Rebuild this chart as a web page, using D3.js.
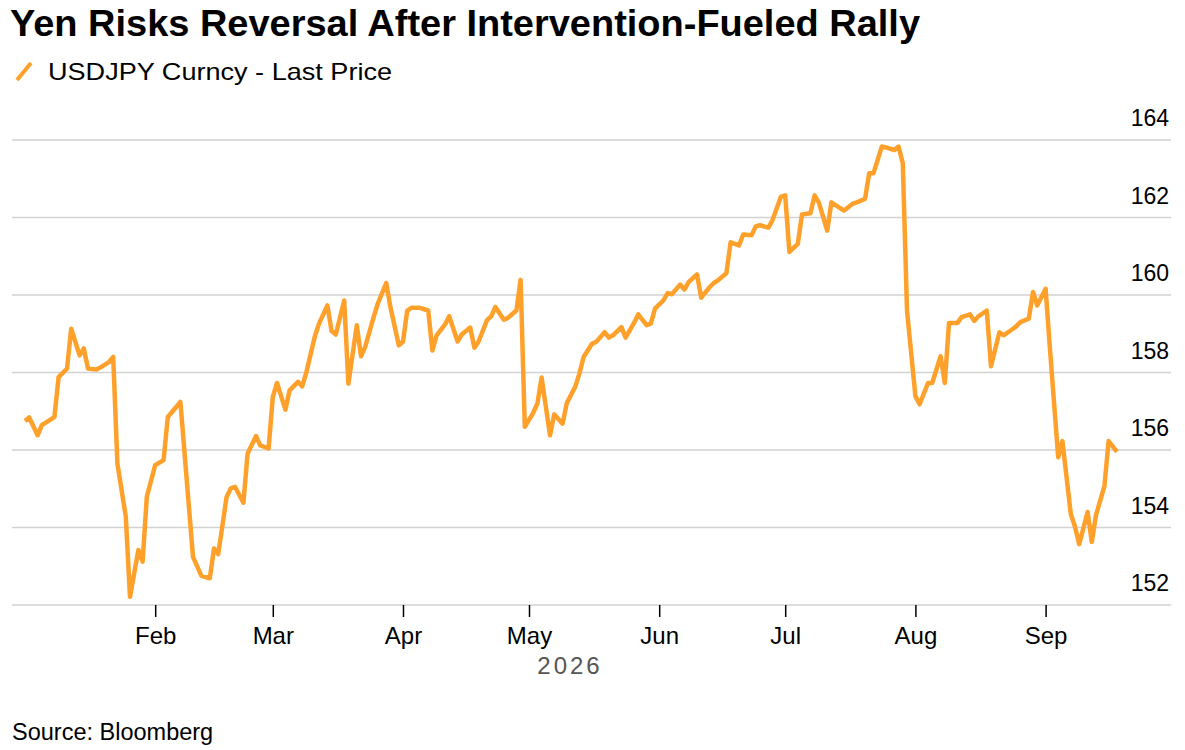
<!DOCTYPE html>
<html>
<head>
<meta charset="utf-8">
<script src="https://cdnjs.cloudflare.com/ajax/libs/d3/7.8.5/d3.min.js"></script>
<style>
  body { margin: 0; background: #fff; }
  svg text { font-family: "Liberation Sans", Arial, sans-serif; }
</style>
</head>
<body>
<svg id="chart" width="1185" height="750"></svg>
<script>
// USDJPY last price
var dates = [
  "2026-01-01","2026-01-02","2026-01-04","2026-01-05","2026-01-08","2026-01-09","2026-01-11","2026-01-12",
  "2026-01-14","2026-01-15","2026-01-16","2026-01-18","2026-01-19","2026-01-21","2026-01-22","2026-01-23",
  "2026-01-25","2026-01-26","2026-01-28","2026-01-29","2026-01-30","2026-02-01","2026-02-03","2026-02-04",
  "2026-02-07","2026-02-10","2026-02-12","2026-02-14","2026-02-15","2026-02-16","2026-02-18","2026-02-19",
  "2026-02-20","2026-02-22","2026-02-23","2026-02-25","2026-02-26","2026-02-28","2026-03-01","2026-03-02",
  "2026-03-04","2026-03-05","2026-03-07","2026-03-08","2026-03-09","2026-03-11","2026-03-12","2026-03-14",
  "2026-03-15","2026-03-16","2026-03-18","2026-03-19","2026-03-21","2026-03-22","2026-03-23","2026-03-25",
  "2026-03-26","2026-03-28","2026-03-29","2026-03-31","2026-04-01","2026-04-02","2026-04-03","2026-04-05",
  "2026-04-07","2026-04-08","2026-04-09","2026-04-11","2026-04-12","2026-04-14","2026-04-15","2026-04-17",
  "2026-04-18","2026-04-19","2026-04-21","2026-04-22","2026-04-23","2026-04-25","2026-04-26","2026-04-28",
  "2026-04-29","2026-04-30","2026-05-02","2026-05-03","2026-05-04","2026-05-06","2026-05-07","2026-05-09",
  "2026-05-10","2026-05-12","2026-05-13","2026-05-14","2026-05-16","2026-05-17","2026-05-19","2026-05-20",
  "2026-05-21","2026-05-23","2026-05-24","2026-05-26","2026-05-27","2026-05-29","2026-05-30","2026-05-31",
  "2026-06-02","2026-06-03","2026-06-04","2026-06-06","2026-06-07","2026-06-08","2026-06-10","2026-06-11",
  "2026-06-13","2026-06-14","2026-06-15","2026-06-17","2026-06-18","2026-06-20","2026-06-21","2026-06-23",
  "2026-06-24","2026-06-25","2026-06-27","2026-06-28","2026-06-30","2026-07-01","2026-07-02","2026-07-04",
  "2026-07-05","2026-07-07","2026-07-08","2026-07-09","2026-07-11","2026-07-12","2026-07-14","2026-07-15",
  "2026-07-17","2026-07-18","2026-07-20","2026-07-21","2026-07-22","2026-07-24","2026-07-25","2026-07-27",
  "2026-07-28","2026-07-29","2026-07-30","2026-08-01","2026-08-02","2026-08-04","2026-08-05","2026-08-07",
  "2026-08-08","2026-08-09","2026-08-11","2026-08-12","2026-08-14","2026-08-15","2026-08-16","2026-08-18",
  "2026-08-19","2026-08-21","2026-08-22","2026-08-24","2026-08-25","2026-08-26","2026-08-28","2026-08-29",
  "2026-08-30","2026-09-01","2026-09-02","2026-09-04","2026-09-05","2026-09-07","2026-09-08","2026-09-09",
  "2026-09-11","2026-09-12","2026-09-13","2026-09-15","2026-09-16","2026-09-18"
];
var prices = [
  156.75,156.84,156.38,156.64,156.85,157.88,158.10,159.13,
  158.44,158.62,158.10,158.08,158.13,158.27,158.40,155.65,
  154.28,152.21,153.42,153.12,154.79,155.61,155.74,156.85,
  157.24,153.24,152.75,152.69,153.46,153.31,154.79,155.01,
  155.05,154.64,155.91,156.36,156.12,156.04,157.37,157.73,
  157.04,157.54,157.76,157.64,158.01,158.93,159.26,159.73,
  159.07,158.98,159.86,157.71,159.22,158.42,158.66,159.43,
  159.78,160.31,159.69,158.70,158.80,159.59,159.67,159.67,
  159.60,158.57,158.96,159.24,159.45,158.80,158.98,159.16,
  158.64,158.80,159.35,159.45,159.69,159.36,159.41,159.60,
  160.39,156.60,156.96,157.20,157.87,156.38,156.92,156.68,
  157.21,157.63,157.97,158.40,158.74,158.79,159.04,158.90,
  158.96,159.17,158.90,159.28,159.50,159.22,159.26,159.65,
  159.86,160.05,160.02,160.27,160.14,160.33,160.53,159.93,
  160.20,160.31,160.38,160.56,161.36,161.28,161.56,161.54,
  161.77,161.80,161.74,161.94,162.54,162.57,161.11,161.32,
  162.08,162.11,162.57,162.39,161.66,162.39,162.25,162.18,
  162.35,162.39,162.48,163.14,163.14,163.83,163.81,163.74,
  163.83,163.40,159.60,157.39,157.18,157.73,157.73,158.42,
  157.73,159.28,159.28,159.43,159.50,159.33,159.45,159.60,
  158.16,159.04,158.96,159.11,159.19,159.30,159.39,160.08,
  159.73,160.16,158.66,155.81,156.23,154.35,154.02,153.57,
  154.40,153.63,154.32,155.07,156.23,155.95
];
var yTicks = [152, 154, 156, 158, 160, 162, 164];
var monthTicks = ["2026-02-01","2026-03-01","2026-04-01","2026-05-01","2026-06-01","2026-07-01","2026-08-01","2026-09-01"];

var lineColor = "#ffa02b";
var svg = d3.select("#chart");
var parse = d3.utcParse("%Y-%m-%d");

var series = dates.map(function(d, i){ return {date: parse(d), value: prices[i]}; });

var x = d3.scaleUtc()
    .domain([parse("2026-01-01"), parse("2026-09-18")])
    .range([25, 1117]);
var y = d3.scaleLinear().domain([152, 164]).range([605, 140]);

//title and legend
svg.append("text")
    .attr("x", 10).attr("y", 36)
    .attr("textLength", 910).attr("lengthAdjust", "spacingAndGlyphs")
    .style("font-size", "37px").style("font-weight", "bold")
    .text("Yen Risks Reversal After Intervention-Fueled Rally");

svg.append("line")
    .attr("x1", 17).attr("y1", 80).attr("x2", 31).attr("y2", 63)
    .style("stroke", lineColor).style("stroke-width", 4);

svg.append("text")
    .attr("x", 48).attr("y", 80)
    .attr("textLength", 344).attr("lengthAdjust", "spacingAndGlyphs")
    .style("font-size", "24px")
    .text("USDJPY Curncy - Last Price");

//horizontal gridlines with labels on the right, sitting above each line
svg.append("g").selectAll("line")
    .data(yTicks).enter().append("line")
    .attr("x1", 12).attr("x2", 1171)
    .attr("y1", function(d){ return y(d); })
    .attr("y2", function(d){ return y(d); })
    .style("stroke", "#d2d2d2").style("stroke-width", 1.5);

svg.append("g").selectAll("text")
    .data(yTicks).enter().append("text")
    .attr("x", 1169)
    .attr("y", function(d){ return y(d) - 14; })
    .style("text-anchor", "end")
    .style("font-size", "23px")
    .text(function(d){ return d; });

//month axis
var xAxis = d3.axisBottom(x)
    .tickValues(monthTicks.map(parse))
    .tickSize(12)
    .tickPadding(10)
    .tickFormat(d3.utcFormat("%b"));

var xg = svg.append("g")
    .attr("transform", "translate(0,605)")
    .call(xAxis);
xg.select(".domain").remove();
xg.selectAll(".tick line").style("stroke", "#000").style("stroke-width", 1.5);
xg.selectAll(".tick text")
    .style("font-family", "Liberation Sans, Arial, sans-serif")
    .style("font-size", "24px").style("fill", "#000");

svg.append("text")
    .attr("x", 570).attr("y", 674)
    .style("text-anchor", "middle")
    .style("font-size", "24px").style("fill", "#555")
    .style("letter-spacing", "3px")
    .text("2026");

//price line
var line = d3.line()
    .x(function(d){ return x(d.date); })
    .y(function(d){ return y(d.value); });

svg.append("path")
    .datum(series)
    .attr("d", line)
    .style("fill", "none")
    .style("stroke", lineColor)
    .style("stroke-width", 4.5)
    .style("stroke-linejoin", "round");

svg.append("text")
    .attr("x", 12).attr("y", 740)
    .style("font-size", "23.5px")
    .text("Source: Bloomberg");
</script>
</body>
</html>
